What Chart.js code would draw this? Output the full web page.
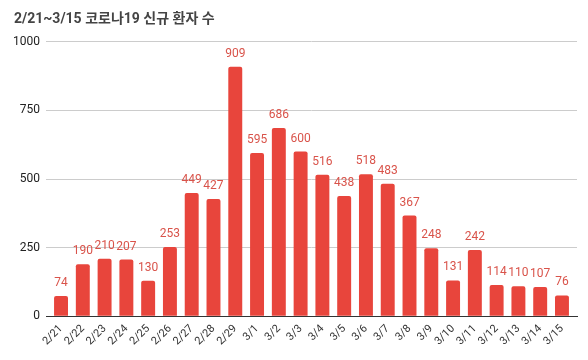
<html><head><meta charset="utf-8">
<script src="https://cdn.jsdelivr.net/npm/chart.js@4"></script>
<style>
body{margin:0;background:#fff;}
#wrap{position:relative;width:588px;height:360px;}
</style>
</head>
<body>
<div id="wrap"><canvas id="myChart" width="588" height="360"></canvas></div>
<script>
var days = ['2/21','2/22','2/23','2/24','2/25','2/26','2/27','2/28','2/29','3/1','3/2','3/3','3/4','3/5','3/6','3/7','3/8','3/9','3/10','3/11','3/12','3/13','3/14','3/15'];
var cases = [74,190,210,207,130,253,449,427,909,595,686,600,516,438,518,483,367,248,131,242,114,110,107,76];
var yTicks = [0,250,500,750,1000];

var red = '#e8453c';
var fontFam = 'Roboto, "Noto Sans CJK KR", sans-serif';

// 막대 위 숫자
var barLabels = {
  id: 'barLabels',
  afterDatasetsDraw: function(chart){
    var c = chart.ctx;
    var meta = chart.getDatasetMeta(0);
    c.save();
    c.font = '12px ' + fontFam;
    c.fillStyle = '#d9534a';
    c.textAlign = 'center';
    c.textBaseline = 'bottom';
    meta.data.forEach(function(bar, i){
      c.fillText(cases[i], bar.x, bar.y - 7);
    });
    c.restore();
  }
};

var ctx = document.getElementById('myChart');
var myChart = new Chart(ctx, {
  type: 'bar',
  data: {
    labels: days,
    datasets: [{
      data: cases,
      backgroundColor: red,
      borderRadius: {topLeft: 2, topRight: 2},
      borderSkipped: 'bottom',
      categoryPercentage: 1,
      barPercentage: 0.64
    }]
  },
  options: {
    responsive: false,
    animation: false,
    layout: {padding: {left: 14, right: 11, top: 0, bottom: 6}},
    plugins: {
      legend: {display: false},
      tooltip: {enabled: false},
      title: {
        display: true,
        text: '2/21~3/15 코로나19 신규 환자 수',
        align: 'start',
        color: '#444',
        font: {family: fontFam, size: 14, weight: 'bold'},
        padding: {top: 11, bottom: 14}
      }
    },
    scales: {
      x: {
        grid: {display: false, drawTicks: false},
        border: {color: '#333'},
        // 양 끝에 약간의 여백
        afterBuildTicks: function(axis){
          axis._startValue = -0.69;
          axis._valueRange = days.length + 0.38;
        },
        ticks: {
          color: '#333',
          font: {family: fontFam, size: 11},
          autoSkip: false,
          maxRotation: 45, minRotation: 45,
          padding: 6
        }
      },
      y: {
        min: 0, max: 1000,
        afterBuildTicks: function(axis){
          axis.ticks = yTicks.map(function(v){ return {value: v}; });
        },
        afterFit: function(axis){ axis.width = 32; },
        grid: {color: '#ccc', drawTicks: false},
        border: {display: false},
        ticks: {
          color: '#222',
          font: {family: fontFam, size: 12},
          padding: 6,
          callback: function(v){ return String(v); }
        }
      }
    }
  },
  plugins: [barLabels]
});
</script>
</body></html>
